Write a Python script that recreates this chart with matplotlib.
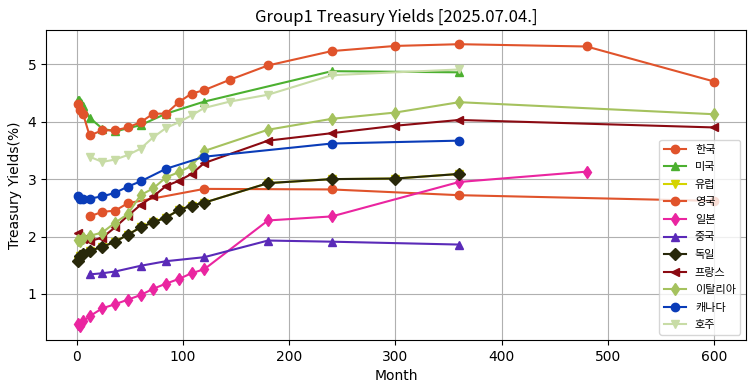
import matplotlib
matplotlib.use("Agg")
import matplotlib.pyplot as plt

plt.rcParams['font.family'] = ['DejaVu Sans', 'Noto Sans CJK KR']

# maturities (months) and yields (%) per country
kr_x = [12, 24, 36, 48, 120, 240, 360, 600]
kr_y = [2.35, 2.43, 2.45, 2.58, 2.83, 2.82, 2.72, 2.62]

us_x = [1, 2, 3, 4, 6, 12, 24, 36, 60, 84, 120, 240, 360]
us_y = [4.37, 4.38, 4.35, 4.33, 4.28, 4.07, 3.88, 3.83, 3.94, 4.14, 4.35, 4.88, 4.86]

de_x = [1, 3, 6, 12, 24, 36, 48, 60, 72, 84, 96, 108, 120, 180, 240, 300, 360]
de_y = [1.58, 1.66, 1.70, 1.75, 1.82, 1.91, 2.03, 2.16, 2.25, 2.33, 2.46, 2.54, 2.59,
        2.93, 3.00, 3.01, 3.09]

eu_x = list(de_x)
eu_y = list(de_y)

uk_x = [1, 3, 6, 12, 24, 36, 48, 60, 72, 84, 96, 108, 120, 144, 180, 240, 300, 360, 480, 600]
uk_y = [4.30, 4.20, 4.13, 3.76, 3.85, 3.85, 3.90, 3.99, 4.14, 4.14, 4.34, 4.49, 4.55,
        4.73, 4.98, 5.23, 5.32, 5.35, 5.31, 4.70]

jp_x = [1, 3, 6, 12, 24, 36, 48, 60, 72, 84, 96, 108, 120, 180, 240, 360, 480]
jp_y = [0.47, 0.44, 0.52, 0.61, 0.75, 0.82, 0.90, 0.98, 1.09, 1.18, 1.26, 1.36, 1.43,
        2.28, 2.35, 2.95, 3.13]

cn_x = [12, 24, 36, 60, 84, 120, 180, 240, 360]
cn_y = [1.34, 1.36, 1.39, 1.49, 1.57, 1.64, 1.93, 1.91, 1.86]

fr_x = [1, 3, 6, 12, 24, 36, 48, 60, 72, 84, 96, 108, 120, 180, 240, 300, 360, 600]
fr_y = [2.06, 1.98, 1.95, 1.92, 1.98, 2.16, 2.36, 2.55, 2.70, 2.88, 2.97, 3.09, 3.28,
        3.67, 3.80, 3.93, 4.03, 3.90]

it_x = [1, 3, 6, 12, 24, 36, 48, 60, 72, 84, 96, 108, 120, 180, 240, 300, 360, 600]
it_y = [1.94, 1.92, 1.97, 2.01, 2.07, 2.24, 2.39, 2.72, 2.84, 3.03, 3.12, 3.23, 3.49,
        3.86, 4.05, 4.16, 4.34, 4.13]

ca_x = [1, 3, 6, 12, 24, 36, 48, 60, 84, 120, 240, 360]
ca_y = [2.71, 2.66, 2.65, 2.66, 2.70, 2.76, 2.87, 2.96, 3.18, 3.39, 3.62, 3.67]

au_x = [12, 24, 36, 48, 60, 72, 84, 96, 108, 120, 144, 180, 240, 360]
au_y = [3.39, 3.30, 3.34, 3.42, 3.53, 3.73, 3.89, 3.99, 4.11, 4.24, 4.35, 4.47, 4.81, 4.91]

series = [
    ("한국", kr_x, kr_y, "#e0532b", "o"),
    ("미국", us_x, us_y, "#4cb030", "^"),
    ("유럽", eu_x, eu_y, "#d4d400", "v"),
    ("영국", uk_x, uk_y, "#e0532b", "o"),
    ("일본", jp_x, jp_y, "#ea25a0", "d"),
    ("중국", cn_x, cn_y, "#5a2ab8", "^"),
    ("독일", de_x, de_y, "#28280a", "D"),
    ("프랑스", fr_x, fr_y, "#8b0a12", "<"),
    ("이탈리아", it_x, it_y, "#a5c25e", "d"),
    ("캐나다", ca_x, ca_y, "#0a3cb8", "o"),
    ("호주", au_x, au_y, "#c8dca6", "v"),
]

fig = plt.figure(figsize=(7.55, 3.91), dpi=100)
ax = fig.add_axes([0.061, 0.130, 0.927, 0.793])

for name, x, y, c, m in series:
    ax.plot(x, y, color=c, marker=m, label=name)

ax.set_title("Group1 Treasury Yields [2025.07.04.]", fontsize=12,
             family=['Noto Sans CJK KR', 'DejaVu Sans'])
ax.set_xlabel("Month")
ax.set_ylabel("Treasury Yields(%)")
ax.grid(True)
ax.legend(loc="lower right", labelspacing=0.68,
          prop={'family': ['Noto Sans CJK KR'], 'size': 8})

fig.savefig("out.png", dpi=100)
